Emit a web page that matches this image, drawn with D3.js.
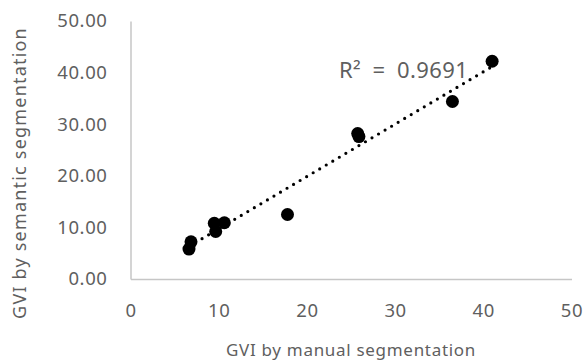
<!DOCTYPE html>
<html>
<head>
<meta charset="utf-8">
<script src="https://cdn.jsdelivr.net/npm/d3@7"></script>
<style>
  body { margin: 0; background: #fff; }
  svg text { font-family: "Noto Sans", "Open Sans", sans-serif; fill: #5f5f5f; }
</style>
</head>
<body>
<div id="scatter"></div>
<script>
// data
var manualGVI = [6.63, 6.86, 9.5, 9.66, 10.64, 17.8, 25.76, 25.9, 36.5, 41.0];
var semanticGVI = [5.8, 7.2, 10.8, 9.2, 10.9, 12.5, 28.2, 27.6, 34.4, 42.2];
var xTicks = [0, 10, 20, 30, 40, 50];
var yTicks = [0, 10, 20, 30, 40, 50];
var rSquaredLabel = "R\u00b2 = 0.9691";

var svgWidth = 583;
var svgHeight = 360;

var svg = d3.select("#scatter")
    .append("svg")
    .attr("width", svgWidth)
    .attr("height", svgHeight);

var xScale = d3.scaleLinear().domain([0, 50]).range([130.5, 571.5]);
var yScale = d3.scaleLinear().domain([0, 50]).range([279, 21]);

var points = manualGVI.map((x, i) => ({x: x, y: semanticGVI[i]}));

// axes - only the baseline lines, no tick marks
var bottomAxis = d3.axisBottom(xScale).tickValues(xTicks).tickSize(0).tickPadding(25)
    .tickFormat(d3.format("d"));
var leftAxis = d3.axisLeft(yScale).tickValues(yTicks).tickSize(0).tickPadding(23)
    .tickFormat(d3.format(".2f"));

var xAxisG = svg.append("g")
    .attr("transform", `translate(0, ${yScale(0)})`)
    .call(bottomAxis);
var yAxisG = svg.append("g")
    .attr("transform", `translate(${xScale(0)}, 0)`)
    .call(leftAxis);

[xAxisG, yAxisG].forEach(g => {
    g.select(".domain").attr("stroke", "#c6c6c6").attr("stroke-width", 1.5);
    g.selectAll("text")
        .style("font-size", "18.5px")
        .style("letter-spacing", "0.6px")
        .attr("fill", "#5f5f5f");
});

// trendline (least squares over the data range)
var mx = d3.mean(points, d => d.x);
var my = d3.mean(points, d => d.y);
var slope = d3.sum(points, d => (d.x - mx) * (d.y - my)) / d3.sum(points, d => (d.x - mx) * (d.x - mx));
var intercept = my - slope * mx;
var xMin = d3.min(manualGVI), xMax = d3.max(manualGVI);

svg.append("line")
    .attr("x1", xScale(xMin))
    .attr("y1", yScale(intercept + slope * xMin))
    .attr("x2", xScale(xMax))
    .attr("y2", yScale(intercept + slope * xMax))
    .attr("stroke", "#000")
    .attr("stroke-width", 3.2)
    .attr("stroke-linecap", "round")
    .attr("stroke-dasharray", "0 7.6");

// markers
svg.selectAll("circle")
    .data(points)
    .enter()
    .append("circle")
    .attr("cx", d => xScale(d.x))
    .attr("cy", d => yScale(d.y))
    .attr("r", 6.5)
    .attr("fill", "#000");

// R squared label
svg.append("text")
    .attr("x", 339)
    .attr("y", 78)
    .style("font-size", "22px")
    .style("letter-spacing", "0.4px")
    .attr("xml:space", "preserve")
    .text(rSquaredLabel.replace(/ /g, "\u2002"));

// axis titles
svg.append("text")
    .attr("x", 351)
    .attr("y", 356)
    .attr("text-anchor", "middle")
    .style("font-size", "17px")
    .style("letter-spacing", "0.7px")
    .text("GVI by manual segmentation");

svg.append("text")
    .attr("transform", "rotate(-90)")
    .attr("x", -173)
    .attr("y", 26)
    .attr("text-anchor", "middle")
    .style("font-size", "18px")
    .style("letter-spacing", "1.2px")
    .text("GVI by semantic segmentation");
</script>
</body>
</html>
